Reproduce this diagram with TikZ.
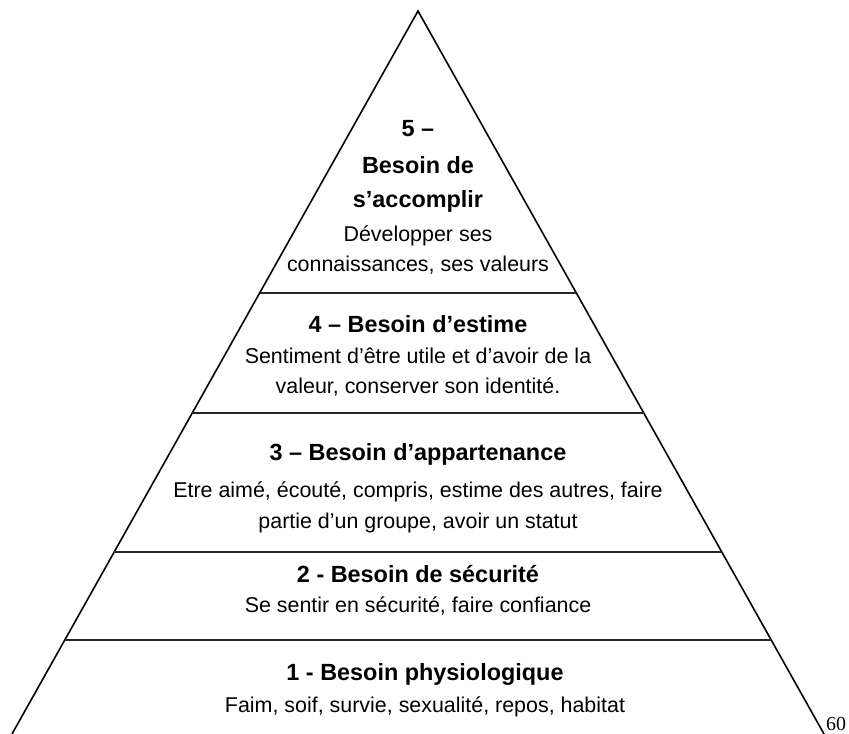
\documentclass[tikz,border=0pt]{standalone}
\usepackage{fontspec}
\setmainfont{Liberation Sans}
\newfontfamily\numfont{Liberation Serif}
\usetikzlibrary{calc}
\tikzset{
  edge/.style={line width=1.6bp, black},
  divider/.style={line width=1.8bp, black!85},
  ttl/.style={anchor=base, inner sep=0pt, font=\bfseries\fontsize{23.5}{28}\selectfont},
  txt/.style={anchor=base, inner sep=0pt, font=\fontsize{21.5}{25}\selectfont},
}
\begin{document}
\begin{tikzpicture}[x=1bp,y=-1bp]
\useasboundingbox (0,0) rectangle (849,734);
\coordinate (A) at (418,11);
\coordinate (L) at (12,734);
\coordinate (R) at (824,734);
\draw[edge, line join=miter] (L) -- (A) -- (R);
% dividers
\foreach \f [count=\i] in {0.39004,0.55602,0.74827,0.86999}{
  \coordinate (l\i) at ($(A)!\f!(L)$);
  \coordinate (r\i) at ($(A)!\f!(R)$);
  \draw[divider] (l\i) -- (r\i);
}
% level 5
\node[ttl] (t5a) at (418,137) {5 –};
\node[ttl] (t5b) at (418,173) {Besoin de};
\node[ttl] (t5c) at (418,207) {s’accomplir};
\node[txt] (b5a) at (418,241) {Développer ses};
\node[txt] (b5b) at (418,271) {connaissances, ses valeurs};
% level 4
\node[ttl] (t4) at (418,332) {4 – Besoin d’estime};
\node[txt] (b4a) at (418,363) {Sentiment d’être utile et d’avoir de la};
\node[txt] (b4b) at (418,393) {valeur, conserver son identité.};
% level 3
\node[ttl] (t3) at (418,460) {3 – Besoin d’appartenance};
\node[txt] (b3a) at (418,497) {Etre aimé, écouté, compris, estime des autres, faire};
\node[txt] (b3b) at (418,528) {partie d’un groupe, avoir un statut};
% level 2
\node[ttl] (t2) at (418,582) {2 - Besoin de sécurité};
\node[txt] (b2) at (418,612) {Se sentir en sécurité, faire confiance};
% level 1
\node[ttl] (t1) at (425,680) {1 - Besoin physiologique};
\node[txt] (b1) at (425,712) {Faim, soif, survie, sexualité, repos, habitat};
% page number
\node[anchor=base west, inner sep=0pt, font=\numfont\fontsize{20}{22}\selectfont] (pg) at (826,730) {60};
\end{tikzpicture}
\end{document}
